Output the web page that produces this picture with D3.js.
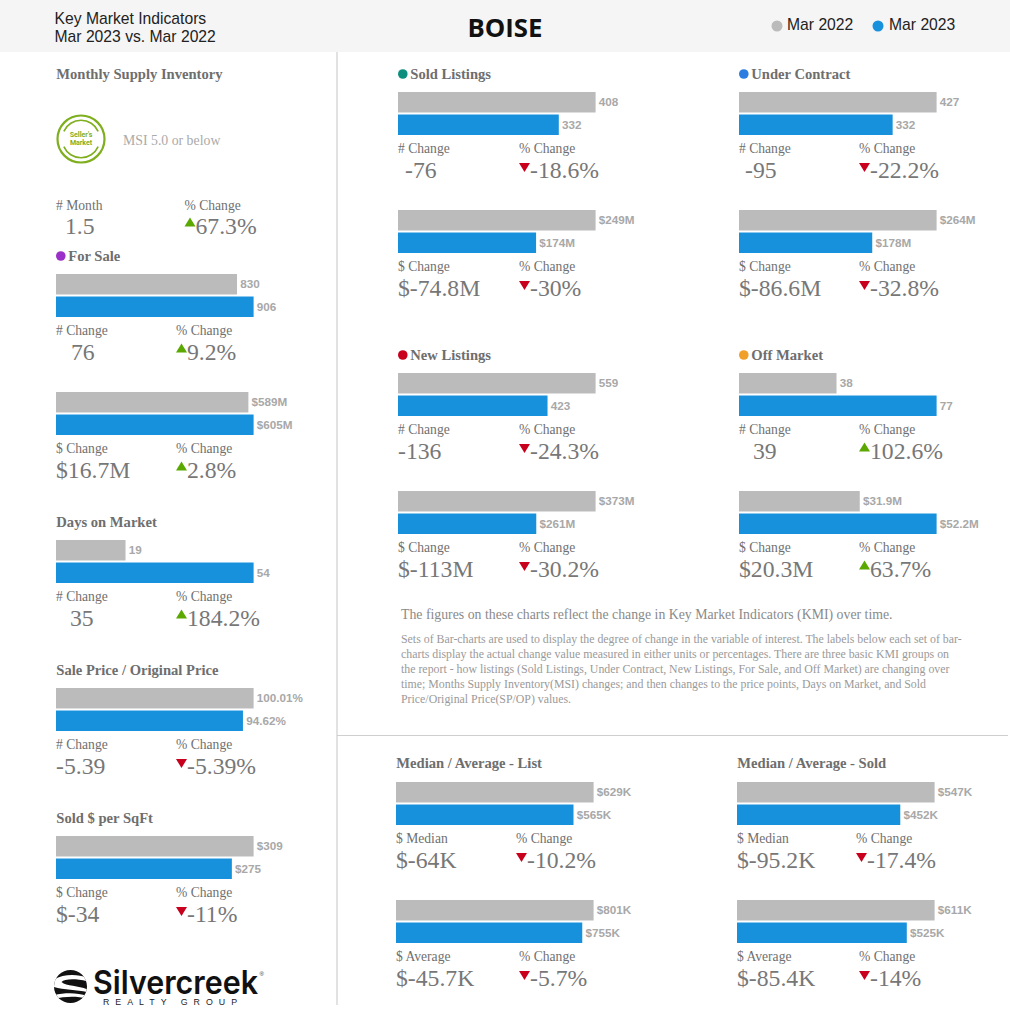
<!DOCTYPE html>
<html><head><meta charset="utf-8">
<style>html,body{margin:0;padding:0;background:#fff}svg{display:block}</style>
<script src="https://cdn.jsdelivr.net/npm/d3@7/dist/d3.min.js"></script>
</head><body><div id="c"></div>
<script>
// ---- data ----
const seriesNames = ["Mar 2022", "Mar 2023"];
const values2022 = [408, 249, 427, 264, 559, 373, 38, 31.9, 830, 589, 19, 100.01, 309, 629, 801, 547, 611];
const values2023 = [332, 174, 332, 178, 423, 261, 77, 52.2, 906, 605, 54, 94.62, 275, 565, 755, 452, 525];
const labels2022 = ["408","$249M","427","$264M","559","$373M","38","$31.9M","830","$589M","19","100.01%","$309","$629K","$801K","$547K","$611K"];
const labels2023 = ["332","$174M","332","$178M","423","$261M","77","$52.2M","906","$605M","54","94.62%","$275","$565K","$755K","$452K","$525K"];
const changeCaptions = ["# Change","$ Change","# Change","$ Change","# Change","$ Change","# Change","$ Change","# Change","$ Change","# Change","# Change","$ Change","$ Median","$ Average","$ Median","$ Average"];
const changeValues = ["-76","$-74.8M","-95","$-86.6M","-136","$-113M","39","$20.3M","76","$16.7M","35","-5.39","$-34","$-64K","$-45.7K","$-95.2K","$-85.4K"];
const percentValues = ["-18.6%","-30%","-22.2%","-32.8%","-24.3%","-30.2%","102.6%","63.7%","9.2%","2.8%","184.2%","-5.39%","-11%","-10.2%","-5.7%","-17.4%","-14%"];
const percentUp = [false,false,false,false,false,false,true,true,true,true,true,false,false,false,false,false,false];
const sectionTitles = ["Monthly Supply Inventory","For Sale","Days on Market","Sale Price / Original Price","Sold $ per SqFt","Sold Listings","Under Contract","New Listings","Off Market","Median / Average - List","Median / Average - Sold"];
const sectionDots = [null,"#9B30C8",null,null,null,"#0E8F7E","#2B7DE0","#C8001E","#F0A028",null,null];
const explainLead = "The figures on these charts reflect the change in Key Market Indicators (KMI) over time.";
const explainLines = [
 "Sets of Bar-charts are used to display the degree of change in the variable of interest. The labels below each set of bar-",
 "charts display the actual change value measured in either units or percentages. There are three basic KMI groups on",
 "the report - how listings (Sold Listings, Under Contract, New Listings, For Sale, and Off Market) are changing over",
 "time; Months Supply Inventory(MSI) changes; and then changes to the price points, Days on Market, and Sold",
 "Price/Original Price(SP/OP) values."];

// ---- layout (left x, bar top y, percent x, big value offset) ----
const setX   = [398,398,739,739,398,398,739,739,56,56,56,56,56,396,396,737,737];
const setY   = [92,210,92,210,373,491,373,491,274,392,540,688,836,782,900,782,900];
const pctX   = [519,519,859,859,519,519,859,859,176,176,176,176,176,516,519,856,859];
const bigOff = [7,0,6,0,0,0,14,0,15,0,14,0,0,0,0,0,0];
const titlePos = [[56,74],[56,256],[56,522],[56,670],[56,818],[398,74],[739,74],[398,355],[739,355],[396,763],[737,763]];

const GRAY="#BBBBBB", BLUE="#1891DC", SERIF="'Liberation Serif',serif", SANS="'Liberation Sans',Arial,sans-serif";
const svg=d3.select("#c").append("svg").attr("width",1010).attr("height",1030).attr("viewBox","0 0 1010 1030");
const color=d3.scaleOrdinal(seriesNames,[GRAY,BLUE]);

// header
svg.append("rect").attr("width",1010).attr("height",52).attr("fill","#F5F5F5");
const hdr=(t,x,y,o={})=>svg.append("text").attr("x",x).attr("y",y).attr("font-family",o.f||SANS).attr("font-size",o.s||14.5)
  .attr("font-weight",o.w||400).attr("fill",o.c||"#222").attr("text-anchor",o.a||"start").attr("dominant-baseline","central").text(t);
hdr("Key Market Indicators",54.5,18,{s:15.7});
hdr("Mar 2023 vs. Mar 2022",54.5,36,{s:15.7});
hdr("BOISE",505,27,{f:"'Open Sans',sans-serif",s:24.5,w:700,c:"#111",a:"middle"}).attr("textLength",75).attr("lengthAdjust","spacingAndGlyphs");
const legX=[777,878], legT=[787,889];
seriesNames.forEach((n,i)=>{
  svg.append("circle").attr("cx",legX[i]).attr("cy",26).attr("r",5.5).attr("fill",color(n));
  hdr(n,legT[i],24,{s:15.7});
});

// dividers
svg.append("line").attr("x1",337).attr("x2",337).attr("y1",52).attr("y2",1005).attr("stroke","#CFCFCF").attr("stroke-width",1.2);
svg.append("line").attr("x1",337).attr("x2",1008).attr("y1",735.5).attr("y2",735.5).attr("stroke","#CFCFCF").attr("stroke-width",1.2);

// section titles
sectionTitles.forEach((t,i)=>{
  const [x,y]=titlePos[i], d=sectionDots[i];
  if(d) svg.append("circle").attr("cx",x+4.8).attr("cy",y).attr("r",4.8).attr("fill",d);
  svg.append("text").attr("x",d?x+12.3:x+.3).attr("y",y).attr("dominant-baseline","central")
    .attr("font-family",SERIF).attr("font-weight",700).attr("font-size",14.6).attr("fill","#6E6E6E").text(t);
});

const cap=(g,t,x,y)=>g.append("text").attr("x",x).attr("y",y).attr("dominant-baseline","central")
  .attr("font-family",SERIF).attr("font-size",13.6).attr("fill","#707070").text(t);
const big=(g,t,x,y)=>g.append("text").attr("x",x).attr("y",y).attr("dominant-baseline","central")
  .attr("font-family",SERIF).attr("font-size",23.7).attr("fill","#777").text(t);
const tri=(g,x,cy,up)=>g.append("path").attr("transform",`translate(${x+5.5},${cy})`)
  .attr("d",up?"M0,-8.5L5.5,0.5L-5.5,0.5Z":"M0,2L-5.5,-7L5.5,-7Z").attr("fill",up?"#5AA800":"#C8001E");

// bar sets
const band=d3.scaleBand().domain(seriesNames).range([0,43]).paddingInner(0.09);
values2022.forEach((v,i)=>{
  const vals=[v,values2023[i]], labs=[labels2022[i],labels2023[i]];
  const x=d3.scaleLinear().domain([0,d3.max(vals)]).range([0,197.6]);
  const g=svg.append("g").attr("transform",`translate(${setX[i]},${setY[i]})`);
  g.selectAll("rect").data(seriesNames).join("rect")
    .attr("x",0).attr("y",n=>band(n)).attr("height",band.bandwidth())
    .attr("width",(n,k)=>x(vals[k])).attr("fill",n=>color(n));
  g.selectAll("text.v").data(seriesNames).join("text").attr("class","v")
    .attr("x",(n,k)=>x(vals[k])+3.2).attr("y",n=>band(n)+band.bandwidth()/2-0.6).attr("dominant-baseline","central")
    .attr("font-family",SANS).attr("font-weight",700).attr("font-size",11.7).attr("fill","#A8A8A8")
    .text((n,k)=>labs[k]);
  cap(g,changeCaptions[i],0,56);
  const px=pctX[i]-setX[i];
  cap(g,"% Change",px,56);
  big(g,changeValues[i],bigOff[i],78);
  tri(g,px,78,percentUp[i]);
  big(g,percentValues[i],px+11,78);
});

// MSI block
const msi=svg.append("g");
const sellerColor="#7FAE1E";
const badge=msi.append("g").attr("transform","translate(81,139)");
badge.append("circle").attr("r",23.5).attr("fill","none").attr("stroke",sellerColor).attr("stroke-width",2.2);
const arc=d3.arc().innerRadius(18).outerRadius(19.6);
badge.append("path").attr("d",arc({startAngle:-1.15,endAngle:1.15})).attr("fill",sellerColor);
badge.append("path").attr("d",arc({startAngle:Math.PI-1.15,endAngle:Math.PI+1.15})).attr("fill",sellerColor);
[["Seller's",-4],["Market",4]].forEach(([t,dy])=>badge.append("text").attr("y",dy).attr("text-anchor","middle").attr("dominant-baseline","central")
  .attr("font-family","Roboto,sans-serif").attr("font-weight",700).attr("font-size",7).attr("fill",sellerColor).text(t));
msi.append("text").attr("x",123).attr("y",140.5).attr("dominant-baseline","central").attr("font-family",SERIF).attr("font-size",13.8).attr("fill","#AAAAAA").text("MSI 5.0 or below");
cap(msi,"# Month",56,205);
cap(msi,"% Change",184.5,205);
big(msi,"1.5",65,226);
tri(msi,184.5,226,true);
big(msi,"67.3%",195.5,226);

// explanatory text
svg.append("text").attr("x",401).attr("y",614).attr("dominant-baseline","central").attr("font-family",SERIF).attr("font-size",13.8).attr("fill","#8A8A8A").text(explainLead);
explainLines.forEach((l,i)=>svg.append("text").attr("x",401).attr("y",639+i*15).attr("dominant-baseline","central")
  .attr("font-family",SERIF).attr("font-size",11.85).attr("fill","#9A9A9A").text(l));

// logo
const logo=svg.append("g");
const gl=logo.append("g").attr("transform","translate(70.5,986.5)");
gl.append("clipPath").attr("id","gc").append("ellipse").attr("rx",16.5).attr("ry",16.5);
const gi=gl.append("g").attr("clip-path","url(#gc)");
gi.append("rect").attr("x",-17).attr("y",-17).attr("width",34).attr("height",34).attr("fill","#111");
gi.append("path").attr("d","M-18,-6C-8,-13 8,-13 18,-8L18,-5C6,-8 -6,-8 -9,-4.5C-4,0 10,-1 18,3.5L18,6C8,3 -8,4 -18,0Z").attr("fill","#fff");
gi.append("path").attr("d","M-18,9C-6,6 8,6 18,10L18,12.5C6,9 -6,10 -18,12.5Z").attr("fill","#fff");
const brand=logo.append("text").attr("font-family","Inter,'Open Sans',sans-serif").attr("font-weight",600).attr("font-size",33).attr("fill","#111").text("Silvercreek");
brand.attr("transform",`translate(93,994) scale(${165/brand.node().getComputedTextLength()},1)`);
logo.append("text").attr("x",259.5).attr("y",976).attr("font-family",SANS).attr("font-size",6).attr("fill","#333").text("®");
logo.append("text").attr("x",103).attr("y",1004.5).attr("font-family",SANS).attr("font-size",8.8).attr("fill","#222")
  .attr("textLength",134).text("REALTY GROUP");
</script></body></html>
